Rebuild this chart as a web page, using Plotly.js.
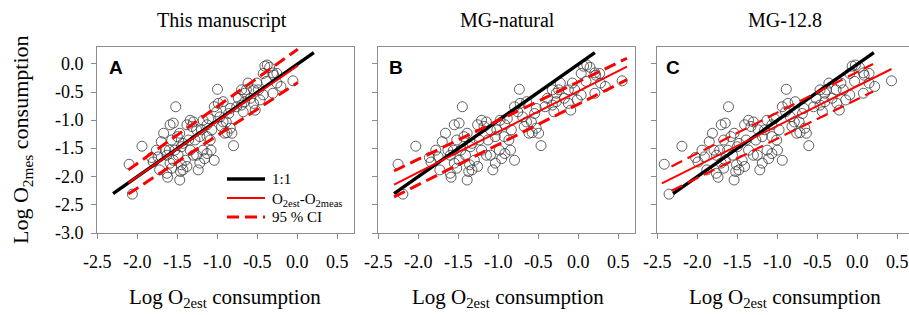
<!DOCTYPE html>
<html>
<head>
<meta charset="utf-8">
<script src="https://cdn.plot.ly/plotly-3.0.1.min.js"></script>
<style>html,body{margin:0;padding:0;background:#fff;}#chart{width:909px;height:315px;}</style>
</head>
<body>
<div id="chart"></div>
<script>
// Measured log O2 consumption (shared by all panels)
const yMeas = [-1.78,-2.31,-1.46,-1.66,-1.74,-1.38,-1.53,-1.88,-2.01,-1.08,-1.05,-0.76,-1.35,-1.29,-1.23,-1.53,-1.62,-1.79,-1.91,-2.06,-1.41,-1.08,-1.00,-1.11,-1.53,-1.03,-1.35,-1.62,-1.88,-1.29,-1.53,-1.68,-1.08,-0.97,-1.35,-1.53,-1.71,-1.17,-0.85,-0.45,-0.70,-0.94,-1.11,-1.03,-1.23,-1.03,-0.88,-1.14,-1.23,-1.45,-1.22,-0.76,-0.61,-0.73,-0.85,-0.52,-0.34,-0.61,-0.70,-0.82,-0.46,-0.64,-0.55,-0.04,-0.06,-0.17,-0.20,-0.52,-0.34,-0.40,-0.30,-0.34,-0.46,-1.53,-1.62,-1.76,-1.71,-1.88,-1.82,-1.23,-1.17,-1.59,-1.94,-0.02,-0.16,
  -1.65,-1.53,-1.85,-1.71,-1.35,-1.17,-1.00,-1.29,-0.76,-0.67,-0.79,-0.46,-0.67,-0.46,-0.31,-0.17,-1.62,-1.76,-1.47];
// Estimated log O2 consumption, panel A (This manuscript)
const xEstA = [-2.10,-2.06,-1.94,-1.82,-1.80,-1.70,-1.65,-1.72,-1.62,-1.59,-1.55,-1.52,-1.57,-1.50,-1.47,-1.53,-1.49,-1.45,-1.46,-1.47,-1.43,-1.38,-1.34,-1.32,-1.34,-1.30,-1.28,-1.26,-1.24,-1.22,-1.18,-1.16,-1.13,-1.11,-1.09,-1.08,-1.04,-1.07,-1.01,-1.00,-0.99,-0.97,-0.95,-0.93,-0.91,-0.89,-0.86,-0.84,-0.82,-0.80,-0.88,-0.76,-0.74,-0.70,-0.68,-0.66,-0.62,-0.59,-0.55,-0.53,-0.49,-0.47,-0.43,-0.41,-0.35,-0.43,-0.30,-0.31,-0.26,-0.21,-0.06,-0.51,-0.64,-1.76,-1.63,-1.59,-1.55,-1.43,-1.38,-1.67,-1.20,-1.13,-1.63,-0.38,-0.31,
  -1.74,-1.60,-1.57,-1.40,-1.36,-1.26,-1.18,-1.13,-1.04,-0.93,-0.84,-0.70,-0.66,-0.55,-0.39,-0.26,-1.30,-1.22,-1.45];
// Panel B (MG-natural)
const xEstB = [-2.25,-2.19,-2.03,-1.86,-1.84,-1.70,-1.63,-1.73,-1.59,-1.55,-1.49,-1.45,-1.52,-1.43,-1.39,-1.47,-1.41,-1.36,-1.37,-1.39,-1.33,-1.26,-1.21,-1.18,-1.21,-1.15,-1.13,-1.10,-1.07,-1.04,-0.99,-0.96,-0.92,-0.89,-0.87,-0.85,-0.80,-0.84,-0.76,-0.74,-0.73,-0.70,-0.68,-0.65,-0.62,-0.59,-0.55,-0.53,-0.50,-0.47,-0.58,-0.42,-0.39,-0.33,-0.31,-0.28,-0.23,-0.18,-0.13,-0.10,-0.05,-0.02,0.03,0.06,0.14,0.03,0.21,0.20,0.27,0.33,0.54,-0.08,-0.25,-1.78,-1.60,-1.55,-1.49,-1.33,-1.26,-1.66,-1.02,-0.92,-1.60,0.10,0.20,
  -1.75,-1.56,-1.52,-1.30,-1.24,-1.10,-0.98,-0.93,-0.80,-0.65,-0.53,-0.33,-0.28,-0.13,0.09,0.26,-1.15,-1.04,-1.35];
// Panel C (MG-12.8)
const xEstC = [-2.41,-2.35,-2.19,-2.02,-1.99,-1.85,-1.79,-1.88,-1.74,-1.70,-1.65,-1.61,-1.67,-1.58,-1.54,-1.62,-1.56,-1.51,-1.52,-1.54,-1.48,-1.41,-1.36,-1.33,-1.36,-1.30,-1.27,-1.25,-1.22,-1.19,-1.13,-1.11,-1.07,-1.04,-1.01,-1.00,-0.94,-0.98,-0.90,-0.89,-0.87,-0.84,-0.82,-0.79,-0.76,-0.73,-0.69,-0.66,-0.64,-0.61,-0.72,-0.55,-0.52,-0.47,-0.44,-0.41,-0.36,-0.32,-0.26,-0.23,-0.18,-0.15,-0.10,-0.07,0.02,-0.10,0.08,0.07,0.14,0.21,0.42,-0.21,-0.39,-1.94,-1.76,-1.70,-1.65,-1.48,-1.41,-1.81,-1.16,-1.07,-1.76,-0.03,0.07,
  -1.91,-1.72,-1.67,-1.44,-1.39,-1.24,-1.13,-1.07,-0.94,-0.78,-0.67,-0.47,-0.41,-0.27,-0.04,0.14,-1.30,-1.19,-1.50];

// 1:1 line
const oneX = [-2.3, 0.2];
const oneY = [-2.3, 0.2];
// Regression fits and 95 % CI (endpoints)
const fitAx = [-2.11, 0.0],  fitAy = [-2.11, -0.03];
const ciAx  = [-2.11, 0.0],  ciAup = [-1.88, 0.26], ciAlo = [-2.31, -0.33];
const fitBx = [-2.3, 0.6],   fitBy = [-2.14, -0.05];
const ciBx  = [-2.3, 0.6],   ciBup = [-1.90, 0.10], ciBlo = [-2.36, -0.28];
const fitCx = [-2.44, 0.42], fitCy = [-2.12, -0.09];
const ciCx  = [-2.32, 0.19], ciCup = [-1.82, 0.0],  ciClo = [-2.25, -0.49];

const xTicks = [-2.5,-2.0,-1.5,-1.0,-0.5,0.0,0.5];
const xTickText = ["-2.5","-2.0","-1.5","-1.0","-0.5","0.0","0.5"];
const yTicks = [0.0,-0.5,-1.0,-1.5,-2.0,-2.5,-3.0];
const yTickText = ["0.0","-0.5","-1.0","-1.5","-2.0","-2.5","-3.0"];
const panelTitles = ["This manuscript","MG-natural","MG-12.8"];
const panelLetters = ["A","B","C"];
const legendLabels = ["1:1", "O<sub>2est</sub>-O<sub>2meas</sub>", "95 % CI"];

const W = 909, H = 315;
const serif = "Liberation Serif";
const frame = "#8c8c8c";
const dashPat = '12px,6px';

const traces = [];
const sets = [
  {xs: xEstA, fx: fitAx, fy: fitAy, cx: ciAx, cu: ciAup, cl: ciAlo, dw: 3},
  {xs: xEstB, fx: fitBx, fy: fitBy, cx: ciBx, cu: ciBup, cl: ciBlo, dw: 3},
  {xs: xEstC, fx: fitCx, fy: fitCy, cx: ciCx, cu: ciCup, cl: ciClo, dw: 2.2}
];
const axName = (p, i) => i === 0 ? p : p + (i + 1);
sets.forEach((s, i) => {
  const xa = axName('x', i), ya = axName('y', i);
  traces.push({x: s.xs, y: yMeas, xaxis: xa, yaxis: ya, type: 'scatter', mode: 'markers',
    marker: {symbol: 'circle', size: 10, color: 'rgba(255,255,255,0)', line: {color: '#3a3a3a', width: 0.8}},
    showlegend: false, hoverinfo: 'skip'});
  traces.push({x: oneX, y: oneY, xaxis: xa, yaxis: ya, type: 'scatter', mode: 'lines',
    line: {color: '#000', width: 3.4}, name: legendLabels[0], showlegend: false});
  traces.push({x: s.fx, y: s.fy, xaxis: xa, yaxis: ya, type: 'scatter', mode: 'lines',
    line: {color: '#ff0000', width: 2}, name: legendLabels[1], showlegend: false});
  traces.push({x: s.cx, y: s.cu, xaxis: xa, yaxis: ya, type: 'scatter', mode: 'lines',
    line: {color: '#ff0000', width: s.dw, dash: dashPat}, name: legendLabels[2], showlegend: false});
  traces.push({x: s.cx, y: s.cl, xaxis: xa, yaxis: ya, type: 'scatter', mode: 'lines',
    line: {color: '#ff0000', width: s.dw, dash: dashPat}, name: legendLabels[2], showlegend: false});
});

const px = v => v / W;
const py = v => 1 - v / H;
const doms = [[97, 354], [378, 635], [657, 909]];
const xRanges = [[-2.5, 0.7], [-2.5, 0.7], [-2.5, 0.7 - 5 / 80.3]];

function xAxis(i) {
  return {domain: [px(doms[i][0]), px(doms[i][1])], range: xRanges[i], anchor: axName('y', i),
    tickmode: 'array', tickvals: xTicks, ticktext: xTickText, ticks: 'outside', ticklen: 5, tickcolor: frame,
    showline: true, linecolor: frame, linewidth: 1, mirror: true, showgrid: false, zeroline: false,
    showticklabels: false};
}
function yAxis(i) {
  return {domain: [py(233), py(47)], range: [-3.0, 0.3], anchor: axName('x', i),
    tickmode: 'array', tickvals: yTicks, ticktext: yTickText, ticks: 'outside', ticklen: 5, tickcolor: frame,
    showline: true, linecolor: frame, linewidth: 1, mirror: i < 2, showgrid: false, zeroline: false,
    showticklabels: false};
}

const annotations = [];
const tickFont = {family: serif, size: 18, color: '#000'};
// tick labels, placed through each axis' own scale
for (let i = 0; i < 3; i++) {
  xTicks.forEach((v, k) => {
    annotations.push({text: xTickText[k], xref: axName('x', i), yref: 'paper', x: v, y: py(261.5),
      xanchor: 'center', yanchor: 'middle', showarrow: false, font: tickFont});
  });
}
yTicks.forEach((v, k) => {
  annotations.push({text: yTickText[k], xref: 'paper', yref: 'y', x: px(86), y: v,
    xanchor: 'right', yanchor: 'middle', showarrow: false, font: tickFont});
});

const centers = [222, 508, 785];
panelTitles.forEach((t, i) => {
  annotations.push({text: t, xref: 'paper', yref: 'paper', x: px(centers[i]), y: py(20), xanchor: 'center', yanchor: 'middle',
    showarrow: false, font: {family: serif, size: 20, color: '#000'}});
  annotations.push({text: 'Log O<sub>2est</sub> consumption', xref: 'paper', yref: 'paper', x: px([225, 508, 785][i]), y: py(298),
    xanchor: 'center', yanchor: 'middle', showarrow: false, font: {family: serif, size: 21, color: '#000'}});
  annotations.push({text: '<b>' + panelLetters[i] + '</b>', xref: 'paper', yref: 'paper',
    x: px([116, 396, 673][i]), y: py(67), xanchor: 'center', yanchor: 'middle', showarrow: false,
    font: {family: "Liberation Sans", size: 19, color: '#000'}});
});
annotations.push({text: 'Log O<sub>2mes</sub> consumption', xref: 'paper', yref: 'paper', x: px(22), y: py(140),
  xanchor: 'center', yanchor: 'middle', textangle: -90, showarrow: false, font: {family: serif, size: 22, color: '#000'}});

// Legend key (panel A)
const legRows = [179, 198, 217];
const legStyles = [{color: '#000', width: 3.4}, {color: '#ff0000', width: 2}, {color: '#ff0000', width: 3, dash: dashPat}];
const shapes = [];
legRows.forEach((r, k) => {
  shapes.push({type: 'line', xref: 'paper', yref: 'paper', x0: px(227), x1: px(265), y0: py(r), y1: py(r), line: legStyles[k]});
  annotations.push({text: legendLabels[k], xref: 'paper', yref: 'paper', x: px(270), y: py(r + (k === 1 ? 2 : 0)),
    xanchor: 'left', yanchor: 'middle', showarrow: false, font: {family: serif, size: 15, color: '#000'}});
});

const layout = {
  width: W, height: H, margin: {l: 0, r: 0, t: 0, b: 0}, paper_bgcolor: '#fff', plot_bgcolor: '#fff',
  font: {family: serif, size: 18, color: '#000'},
  showlegend: false,
  xaxis: xAxis(0), xaxis2: xAxis(1), xaxis3: xAxis(2),
  yaxis: yAxis(0), yaxis2: yAxis(1), yaxis3: yAxis(2),
  annotations: annotations, shapes: shapes
};

Plotly.newPlot('chart', traces, layout, {displayModeBar: false});
</script>
</body>
</html>
